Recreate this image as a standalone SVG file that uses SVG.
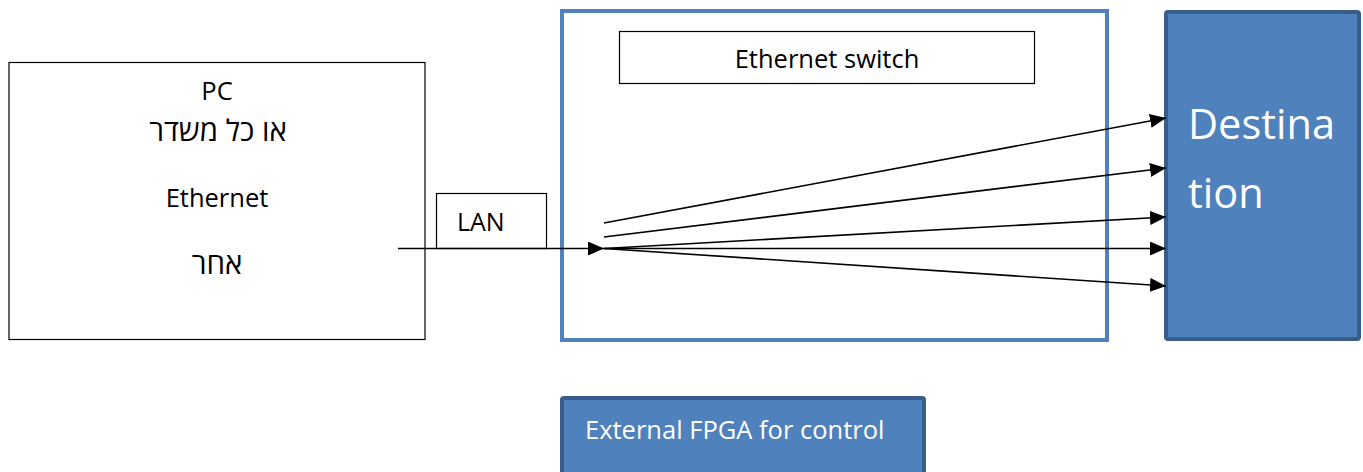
<svg xmlns="http://www.w3.org/2000/svg" width="1363" height="472" viewBox="0 0 1363 472">
  <style>
    .box { fill: #ffffff; stroke: #000000; stroke-width: 1.2; }
    .blue { fill: #4F81BD; stroke: #385D8A; stroke-width: 4; }
    .frame { fill: #ffffff; stroke: #4F81BD; stroke-width: 4; }
    .t { font-family: "Open Sans", "DejaVu Sans", sans-serif; fill: #000000; }
    .w { font-family: "Open Sans", "DejaVu Sans", sans-serif; fill: #ffffff; }
    .edge { stroke: #000000; stroke-width: 1.6; fill: none; }
  </style>
  <defs>
    <marker id="arrowBig" markerWidth="16" markerHeight="14" refX="16" refY="7" orient="auto" markerUnits="userSpaceOnUse" viewBox="0 0 16 14">
      <path d="M0,0 L16,7 L0,14 Z" fill="#000000"/>
    </marker>
  </defs>

  <g id="pc">
    <rect class="box" x="9" y="62.5" width="416" height="277"/>
    <text class="t" x="217" y="100" font-size="25.5" text-anchor="middle">PC</text>
    <text class="t" x="218" y="141" font-size="29.5" text-anchor="middle">או כל משדר</text>
    <text class="t" x="217" y="207" font-size="25.5" text-anchor="middle">Ethernet</text>
    <text class="t" x="217" y="274" font-size="29.5" text-anchor="middle">אחר</text>
  </g>

  <g id="switch">
    <rect class="frame" x="562" y="11" width="545" height="329"/>
    <rect class="box" x="619.5" y="31.5" width="415" height="52"/>
    <text class="t" x="827" y="68" font-size="25.5" text-anchor="middle">Ethernet switch</text>
  </g>

  <g id="lan">
    <rect class="box" x="436.5" y="193.5" width="110" height="55"/>
    <text class="t" x="457" y="231" font-size="25">LAN</text>
  </g>

  <g id="destination">
    <rect class="blue" x="1166" y="12" width="193" height="327" rx="2"/>
    <text class="w" x="1188" y="139" font-size="41.5">Destina</text>
    <text class="w" x="1188" y="208" font-size="41.5">tion</text>
  </g>

  <g id="fpga">
    <rect class="blue" x="562" y="398" width="362" height="80" rx="2"/>
    <text class="w" x="585" y="439" font-size="25.5">External FPGA for control</text>
  </g>

  <g id="connectors">
    <line class="edge" x1="398" y1="248.5" x2="604" y2="248.5" marker-end="url(#arrowBig)"/>
    <line class="edge" x1="604" y1="223" x2="1166" y2="118" marker-end="url(#arrowBig)"/>
    <line class="edge" x1="604" y1="237" x2="1166" y2="168" marker-end="url(#arrowBig)"/>
    <line class="edge" x1="604" y1="248.5" x2="1166" y2="217" marker-end="url(#arrowBig)"/>
    <line class="edge" x1="604" y1="248.5" x2="1166" y2="248.5" marker-end="url(#arrowBig)"/>
    <line class="edge" x1="604" y1="248.5" x2="1166" y2="286" marker-end="url(#arrowBig)"/>
  </g>
</svg>
